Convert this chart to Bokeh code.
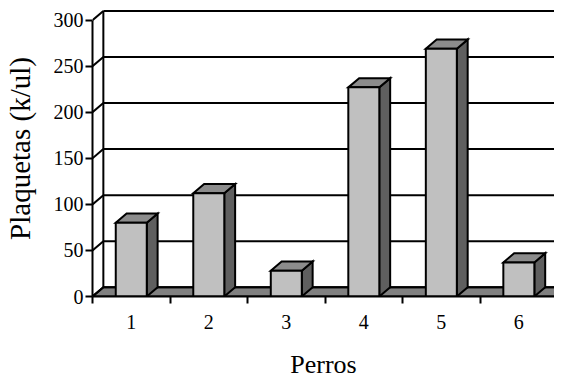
from bokeh.plotting import figure
from bokeh.models import FixedTicker, Range1d, ColumnDataSource
from bokeh.embed import file_html
from bokeh.resources import INLINE

# ---- data ----
perros = ["1", "2", "3", "4", "5", "6"]
plaquetas = [80, 112, 28, 227, 269, 37]
y_ticks = [0, 50, 100, 150, 200, 250, 300]

# ---- 3D look parameters (in data units) ----
DX = 0.14   # depth shift along x (categories)
DY = 10.0   # depth shift along y (value units)
HALF = 0.2  # half bar width
N = len(perros)

FONT = "Liberation Serif"

p = figure(width=554, height=381, output_backend="svg", toolbar_location=None,
           x_range=Range1d(0, 5.96), y_range=Range1d(0, 321.3),
           min_border_left=89, min_border_right=0, min_border_top=0,
           min_border_bottom=84)
p.outline_line_color = None
p.xgrid.visible = False
p.ygrid.visible = False
p.background_fill_color = "white"

# floor
p.patch([0, N, N + DX, DX], [0, 0, DY, DY], fill_color="#808080",
        line_color="black", line_width=2)

# back wall gridlines
p.segment(x0=[DX] * len(y_ticks), y0=[t + DY for t in y_ticks],
          x1=[N + DX] * len(y_ticks), y1=[t + DY for t in y_ticks],
          line_color="black", line_width=2)
# side wall diagonals
p.segment(x0=[0] * len(y_ticks), y0=y_ticks,
          x1=[DX] * len(y_ticks), y1=[t + DY for t in y_ticks],
          line_color="black", line_width=2)
# back wall vertical edge
p.segment(x0=[DX], y0=[DY], x1=[DX], y1=[max(y_ticks) + DY],
          line_color="black", line_width=2)

# bars
centers = [i + 0.5 for i in range(N)]
left = [c - HALF for c in centers]
right = [c + HALF for c in centers]

side_xs = [[r, r + DX, r + DX, r] for r in right]
side_ys = [[0, DY, v + DY, v] for v in plaquetas]
top_xs = [[l, r, r + DX, l + DX] for l, r in zip(left, right)]
top_ys = [[v, v, v + DY, v + DY] for v in plaquetas]

p.patches(side_xs, side_ys, fill_color="#5F5F5F", line_color="black",
          line_width=2, line_join="miter")
p.patches(top_xs, top_ys, fill_color="#8C8C8C", line_color="black",
          line_width=2, line_join="miter")
src = ColumnDataSource(dict(left=left, right=right, top=plaquetas,
                            bottom=[0] * N))
p.quad(left="left", right="right", top="top", bottom="bottom", source=src,
       fill_color="#C0C0C0", line_color="black", line_width=2)

# y axis
ya = p.yaxis[0]
ya.ticker = FixedTicker(ticks=y_ticks)
ya.bounds = (0, 300)
ya.axis_line_width = 2
ya.major_tick_line_width = 2
ya.major_tick_out = 7
ya.major_tick_in = 0
ya.minor_tick_line_color = None
ya.major_label_standoff = 2
ya.major_label_text_font = FONT
ya.major_label_text_font_size = "20px"
ya.major_label_text_color = "black"
ya.axis_label = "Plaquetas (k/ul)"
ya.axis_label_text_font = FONT
ya.axis_label_text_font_size = "29px"
ya.axis_label_text_font_style = "normal"
ya.axis_label_text_color = "black"
ya.axis_label_standoff = 15

# x axis
xa = p.xaxis[0]
xa.ticker = FixedTicker(ticks=centers, minor_ticks=list(range(N + 1)))
xa.major_label_overrides = {c: lab for c, lab in zip(centers, perros)}
xa.axis_line_width = 2
xa.major_tick_out = 0
xa.major_tick_in = 0
xa.minor_tick_out = 7
xa.minor_tick_in = 0
xa.minor_tick_line_width = 2
xa.minor_tick_line_color = "black"
xa.major_label_standoff = 11
xa.major_label_text_font = FONT
xa.major_label_text_font_size = "20px"
xa.major_label_text_color = "black"
xa.axis_label = "Perros"
xa.axis_label_text_font = FONT
xa.axis_label_text_font_size = "26px"
xa.axis_label_text_font_style = "normal"
xa.axis_label_text_color = "black"
xa.axis_label_standoff = 18

open("out.html", "w").write(file_html(p, INLINE))
